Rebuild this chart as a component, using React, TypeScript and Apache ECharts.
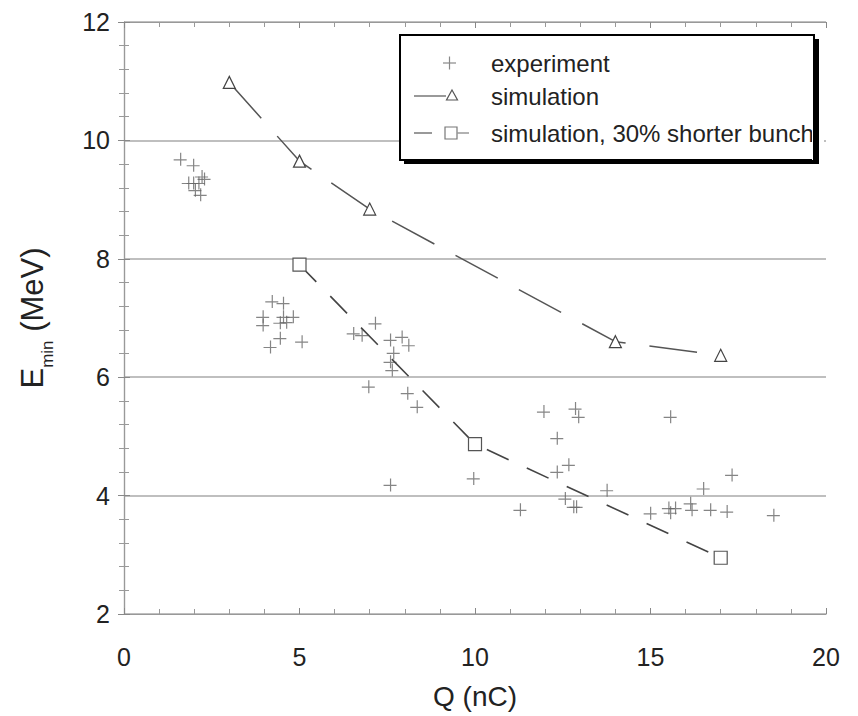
import React, { useEffect, useRef } from "react";
import * as echarts from "echarts";

const experiment: number[][] = [
  [1.6, 9.68], [1.97, 9.58], [2.21, 9.39], [2.28, 9.35], [1.83, 9.28], [1.97, 9.28], [2.12, 9.28], [2.02, 9.16], [2.17, 9.08],
  [3.95, 7.02], [3.95, 6.88], [4.21, 7.28], [4.53, 7.25], [4.53, 7.02], [4.81, 7.02], [4.44, 6.92], [4.62, 6.93], [4.44, 6.66], [4.16, 6.51], [5.06, 6.6],
  [7.15, 6.91], [6.53, 6.74], [6.77, 6.71], [7.58, 6.63], [7.91, 6.68], [8.1, 6.54], [7.67, 6.41], [7.58, 6.26], [7.63, 6.12], [6.96, 5.84], [8.07, 5.73], [8.34, 5.5], [7.58, 4.18],
  [11.95, 5.42], [12.85, 5.47], [12.94, 5.33], [12.33, 4.97], [12.66, 4.52], [12.33, 4.4], [9.95, 4.29], [13.75, 4.09], [12.56, 3.95], [12.8, 3.81], [12.88, 3.81], [11.28, 3.76],
  [15.56, 5.33], [17.31, 4.35], [16.5, 4.12], [16.13, 3.87], [15.51, 3.79], [15.7, 3.79], [15.56, 3.71], [14.99, 3.7], [16.17, 3.76], [16.7, 3.76], [17.17, 3.73], [18.5, 3.67],
];
const simulation: number[][] = [[3, 10.98], [5, 9.65], [7, 8.84], [14, 6.6], [17, 6.37]];
const simulationShort: number[][] = [[5, 7.9], [10, 4.87], [17, 2.95]];

const legendLabels = ["experiment", "simulation", "simulation, 30% shorter bunch"];
const xTitle = "Q (nC)";

const FONT = "Liberation Sans, Arial, Helvetica, sans-serif";
const CROSS = "path://M0,6.4h13v1.2h-13z M6.4,0h1.2v13h-1.2z";

export default function App() {
  const ref = useRef<HTMLDivElement>(null);
  useEffect(() => {
    if (!ref.current) return;
    const chart = echarts.init(ref.current, undefined, { renderer: "svg" });
    const axisCommon = {
      axisLine: { show: true, lineStyle: { color: "#999", width: 1.2 } },
      axisTick: { show: true, inside: true, length: 6, lineStyle: { color: "#888", width: 1 } },
      minorTick: { show: true, splitNumber: 5, length: 5, lineStyle: { color: "#999", width: 1 } },
    };
    const option: any = {
      animation: false,
      backgroundColor: "#fff",
      grid: { left: 124, right: 32, top: 22, bottom: 102 },
      xAxis: [
        {
          ...axisCommon,
          type: "value", position: "bottom", min: 0, max: 20, interval: 5,
          splitLine: { show: false },
          axisLabel: { color: "#222", fontSize: 25, fontFamily: FONT, margin: 30 },
          name: xTitle, nameLocation: "middle", nameGap: 68,
          nameTextStyle: { color: "#222", fontSize: 28, fontFamily: FONT },
        },
        {
          ...axisCommon,
          type: "value", position: "top", min: 0, max: 20, interval: 5,
          splitLine: { show: false }, axisLabel: { show: false },
        },
      ],
      yAxis: [
        {
          ...axisCommon,
          type: "value", position: "left", min: 2, max: 12, interval: 2,
          splitLine: { show: true, lineStyle: { color: "#aaa", width: 1.5 } },
          axisLabel: { color: "#222", fontSize: 25, fontFamily: FONT, margin: 14 },
          name: "{E|E}{s|min}{u| (MeV)}", nameLocation: "middle", nameGap: 76, nameRotate: 90,
          nameTextStyle: {
            color: "#222", fontFamily: FONT,
            rich: {
              E: { fontSize: 31, fontFamily: FONT, color: "#222", verticalAlign: "bottom", lineHeight: 36 },
              s: { fontSize: 17, fontFamily: FONT, color: "#222", verticalAlign: "bottom", lineHeight: 36, padding: [0, 0, -8, 0] },
              u: { fontSize: 31, fontFamily: FONT, color: "#222", verticalAlign: "bottom", lineHeight: 36 },
            },
          },
        },
        {
          ...axisCommon,
          type: "value", position: "right", min: 2, max: 12, interval: 2,
          splitLine: { show: false }, axisLabel: { show: false },
        },
      ],
      series: [
        {
          name: legendLabels[0], type: "scatter", data: experiment,
          symbol: CROSS, symbolSize: 13,
          itemStyle: { color: "#666" },
        },
        {
          name: legendLabels[1], type: "line", data: simulation,
          symbol: "triangle", symbolSize: 12, showSymbol: true,
          lineStyle: { color: "#555", width: 1.5, type: [48, 24] },
          itemStyle: { color: "#fff", borderColor: "#444", borderWidth: 1.2 },
        },
        {
          name: legendLabels[2], type: "line", data: simulationShort,
          symbol: "rect", symbolSize: 13, showSymbol: true,
          lineStyle: { color: "#444", width: 1.6, type: [24, 20] },
          itemStyle: { color: "#fff", borderColor: "#555", borderWidth: 1.2 },
        },
      ],
      graphic: [
        { type: "rect", shape: { x: 404, y: 39, width: 415, height: 125 }, style: { fill: "#000" }, z: 100 },
        { type: "rect", shape: { x: 400, y: 35, width: 415, height: 125 }, style: { fill: "#fff", stroke: "#000", lineWidth: 2 }, z: 101 },
        { type: "text", x: 491, y: 63, style: { text: legendLabels[0], fontSize: 24, fontFamily: FONT, fill: "#222", verticalAlign: "middle" }, z: 102 },
        { type: "text", x: 491, y: 96, style: { text: legendLabels[1], fontSize: 24, fontFamily: FONT, fill: "#222", verticalAlign: "middle" }, z: 102 },
        { type: "text", x: 491, y: 133, style: { text: legendLabels[2], fontSize: 24, fontFamily: FONT, fill: "#222", verticalAlign: "middle" }, z: 102 },
        { type: "rect", shape: { x: 812, y: 30, width: 12, height: 140 }, style: { fill: "#fff" }, z: 103 },
        { type: "line", shape: { x1: 814, y1: 34, x2: 814, y2: 160 }, style: { stroke: "#000", lineWidth: 2 }, z: 104 },
        { type: "line", shape: { x1: 812, y1: 35, x2: 815, y2: 35 }, style: { stroke: "#000", lineWidth: 2 }, z: 104 },
        { type: "rect", shape: { x: 815, y: 39, width: 4, height: 125 }, style: { fill: "#000" }, z: 104 },
        { type: "rect", shape: { x: 810, y: 160, width: 9, height: 4 }, style: { fill: "#000" }, z: 104 },
        // legend samples
        { type: "line", shape: { x1: 443, y1: 63, x2: 456, y2: 63 }, style: { stroke: "#888", lineWidth: 1.2 }, z: 102 },
        { type: "line", shape: { x1: 449.5, y1: 56.5, x2: 449.5, y2: 69.5 }, style: { stroke: "#888", lineWidth: 1.2 }, z: 102 },
        { type: "line", shape: { x1: 414, y1: 96, x2: 446, y2: 96 }, style: { stroke: "#777", lineWidth: 1.5 }, z: 102 },
        { type: "polygon", shape: { points: [[452, 90], [457.5, 100], [446.5, 100]] }, style: { fill: "#fff", stroke: "#555", lineWidth: 1.2 }, z: 102 },
        { type: "line", shape: { x1: 414, y1: 133, x2: 432, y2: 133 }, style: { stroke: "#777", lineWidth: 1.5 }, z: 102 },
        { type: "rect", shape: { x: 445, y: 127, width: 12, height: 12 }, style: { fill: "#fff", stroke: "#777", lineWidth: 1.2 }, z: 102 },
        { type: "line", shape: { x1: 457, y1: 133, x2: 469, y2: 133 }, style: { stroke: "#999", lineWidth: 1.5 }, z: 102 },
      ],
    };
    chart.setOption(option);
    return () => chart.dispose();
  }, []);
  return <div ref={ref} style={{ width: 858, height: 716, position: "absolute", left: 0, top: 0 }} />;
}
